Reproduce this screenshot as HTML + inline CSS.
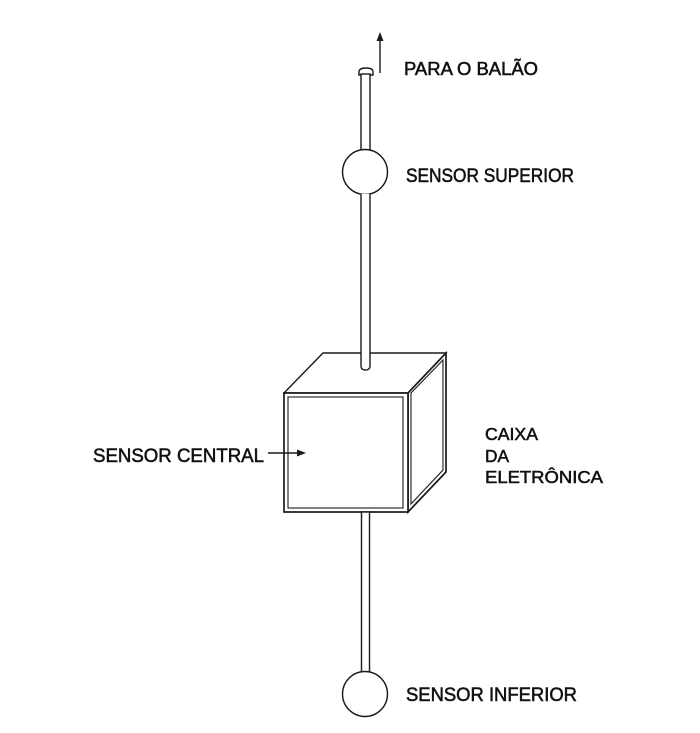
<!DOCTYPE html>
<html>
<head>
<meta charset="utf-8">
<style>
html,body{margin:0;padding:0;background:#fff;}
svg{display:block;}
text{font-family:"Liberation Sans",Arial,sans-serif;fill:#111;stroke:#111;stroke-width:0.55;}
</style>
</head>
<body>
<svg width="700" height="733" viewBox="0 0 700 733" xmlns="http://www.w3.org/2000/svg">
  <rect width="700" height="733" fill="#fff"/>
  <g stroke="#1a1a1a" stroke-width="1.4" fill="none">
    <!-- arrow up -->
    <line x1="380" y1="73" x2="380" y2="40"/>
    <polygon points="380,32 376.5,41 383.5,41" fill="#1a1a1a" stroke="none"/>

    <!-- top cap -->
    <path d="M359,75 L359,72 Q359,68 366,68 Q373,68 373,72 L373,75 Z" fill="#fff"/>
    <!-- rod top to upper circle -->
    <rect x="361" y="74" width="9" height="77" fill="#fff"/>
    <!-- upper circle -->
    <circle cx="365" cy="172" r="22.5" fill="#fff"/>

    <!-- cube -->
    <polygon points="284,393 323,353 446,353 408,393" fill="#fff"/>
    <polygon points="408,393 446,353 446,472 408,512" fill="#fff" stroke-width="1.7"/>
    <polygon points="411,393 443,360 443,470 411,504" fill="none" stroke-width="1.1"/>
    <rect x="284" y="393" width="124" height="119" fill="#fff" stroke-width="1.7"/>
    <rect x="288" y="397" width="115" height="111" fill="none" stroke-width="1.1"/>

    <!-- rod from upper circle into cube top -->
    <path d="M361,194 L361,366 Q361,370 365.5,370 Q370,370 370,366 L370,194" fill="#fff"/>

    <!-- bottom rod -->
    <rect x="361.5" y="512" width="8" height="161" fill="#fff"/>
    <!-- bottom circle -->
    <circle cx="365" cy="694" r="22.5" fill="#fff"/>

    <!-- sensor central arrow -->
    <line x1="268" y1="453" x2="299" y2="453"/>
    <polygon points="306,453 297,449.5 297,456.5" fill="#1a1a1a" stroke="none"/>
  </g>

  <text x="404" y="75" font-size="18" textLength="134" lengthAdjust="spacingAndGlyphs">PARA O BALÃO</text>
  <text x="406" y="182" font-size="19" textLength="168" lengthAdjust="spacingAndGlyphs">SENSOR SUPERIOR</text>
  <text x="93" y="462" font-size="19" textLength="171" lengthAdjust="spacingAndGlyphs">SENSOR CENTRAL</text>
  <text x="485" y="440" font-size="17.5" textLength="53" lengthAdjust="spacingAndGlyphs">CAIXA</text>
  <text x="485" y="462" font-size="17.5" textLength="24" lengthAdjust="spacingAndGlyphs">DA</text>
  <text x="485" y="483" font-size="17.5" textLength="118" lengthAdjust="spacingAndGlyphs">ELETRÔNICA</text>
  <text x="406" y="701" font-size="19" textLength="171" lengthAdjust="spacingAndGlyphs">SENSOR INFERIOR</text>
</svg>
</body>
</html>
